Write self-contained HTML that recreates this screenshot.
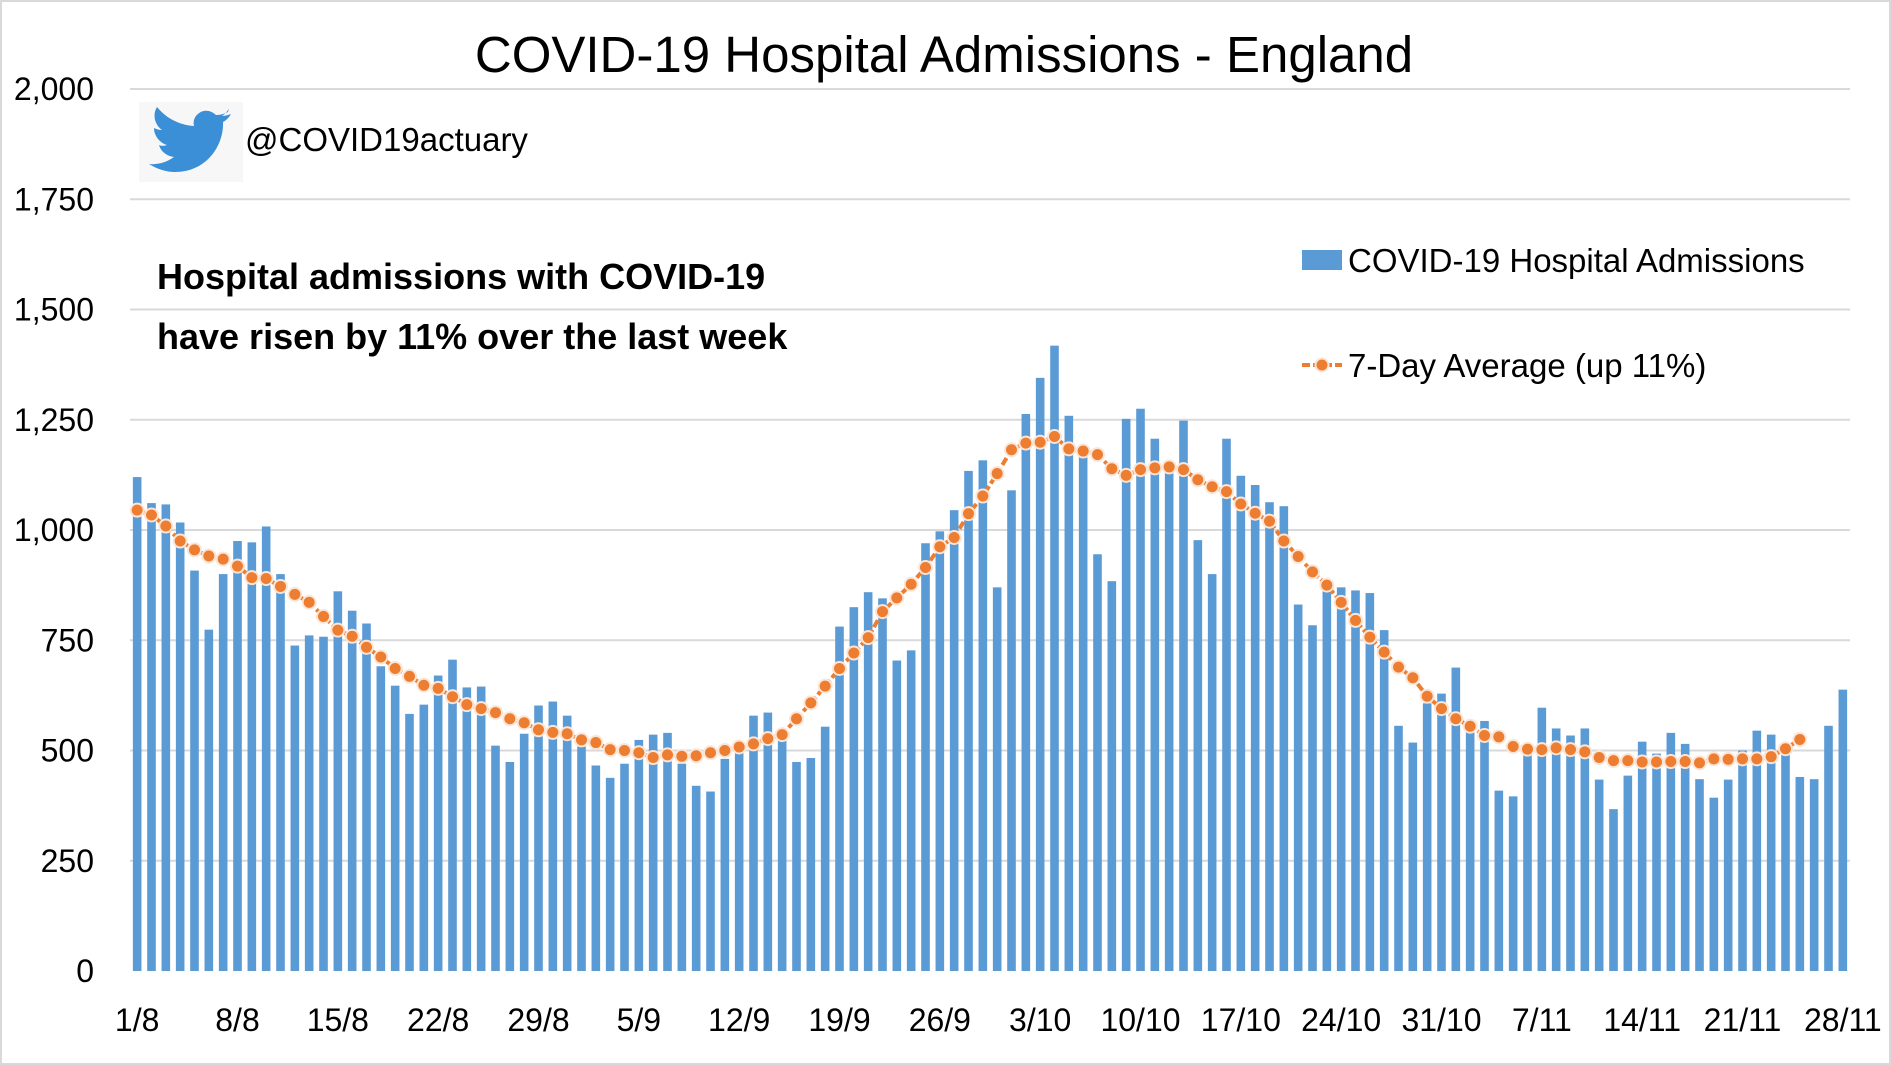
<!DOCTYPE html>
<html><head><meta charset="utf-8">
<style>
html,body{margin:0;padding:0;background:#fff;}
body{width:1891px;height:1065px;overflow:hidden;}
svg{display:block;font-family:"Liberation Sans",sans-serif;}
</style></head>
<body>
<svg id="chart" width="1891" height="1065" viewBox="0 0 1891 1065" xmlns="http://www.w3.org/2000/svg">
<rect x="1" y="1" width="1889" height="1063" fill="#fff" stroke="#d9d9d9" stroke-width="2"/>
<g id="grid"></g>
<g id="yticks"></g>
<g id="bars"></g>
<g id="avg"></g>
<g id="xticks"></g>
<text x="944" y="72" text-anchor="middle" font-size="51" fill="#000">COVID-19 Hospital Admissions - England</text>
<g>
<rect x="139" y="102" width="104" height="80" fill="#f7f7f7"/>
<path fill="#3a8fd6" d="M228 112 c-4 2-8 3-12 3 c-5-5-13-6-18-1 c-4 3-5 8-4 12 c-15-1-28-8-37-19 c-5 8-2 18 5 23 c-3 0-6-1-8-2 c0 8 6 15 13 17 c-3 1-6 1-8 0 c2 7 8 11 15 12 c-7 5-16 8-25 7 c8 5 17 8 26 8 c32 0 49-27 48-50 c4-2 6-5 8-8 c-3 1-6 2-9 2 c3-2 6-5 7-8z"/>
<text x="245" y="151" font-size="33" fill="#000">@COVID19actuary</text>
</g>
<text x="157" y="289" font-size="36" font-weight="bold" fill="#000">Hospital admissions with COVID-19</text>
<text x="157" y="349" font-size="36" font-weight="bold" fill="#000">have risen by 11% over the last week</text>
<g>
<rect x="1302" y="250" width="40" height="20" fill="#5b9bd5"/>
<text x="1348" y="272" font-size="33" fill="#000">COVID-19 Hospital Admissions</text>
<line x1="1302" y1="365" x2="1342" y2="365" stroke="#ed7d31" stroke-width="4" stroke-dasharray="8,3"/>
<circle cx="1322" cy="365" r="6.5" fill="#ed7d31" stroke="#fbe5d6" stroke-width="2"/>
<text x="1348" y="377" font-size="33" fill="#000">7-Day Average (up 11%)</text>
</g>
</svg>
<script>
const yTicks = [0, 250, 500, 750, 1000, 1250, 1500, 1750, 2000];
const yTickLabels = ["0", "250", "500", "750", "1,000", "1,250", "1,500", "1,750", "2,000"];
const xTickLabels = ["1/8","8/8","15/8","22/8","29/8","5/9","12/9","19/9","26/9","3/10","10/10","17/10","24/10","31/10","7/11","14/11","21/11","28/11"];
const admissions = [1120,1061,1058,1017,908,774,900,975,972,1008,900,738,761,758,861,817,788,691,647,583,604,670,706,643,645,511,474,538,602,611,579,509,466,438,470,524,536,540,470,420,
407,481,495,579,586,523,474,483,554,781,825,859,845,704,727,970,997,1045,1134,1158,870,1090,1263,1345,1418,1259,1165,945,884,1252,1275,1207,1135,1248,977,900,1207,1123,1102,1063,1054,831,
784,861,870,863,857,773,556,518,607,629,688,547,567,409,396,495,597,550,534,550,434,367,443,520,493,540,515,435,393,434,500,545,536,490,440,435,556,638];
const avg7 = [1045,1034,1009,975,955,941,934,918,892,890,872,854,836,804,773,759,734,712,686,668,648,641,622,604,595,586,572,563,547,541,538,524,518,502,500,495,484,490,487,
488,495,500,508,515,527,536,572,608,646,686,721,756,815,846,877,915,962,983,1037,1077,1128,1182,1197,1199,1212,1184,1179,1171,1139,1124,1137,1141,1143,1137,1114,1098,1087,1059,1038,1020,975,940,
905,875,836,795,757,723,689,665,623,595,572,555,534,531,509,503,502,506,502,497,484,477,477,474,474,475,475,472,481,480,481,481,486,504,525];

const NS = "http://www.w3.org/2000/svg";
const plotL = 130, plotR = 1850, y0px = 971, y2000px = 89;
const n = admissions.length;
const step = (plotR - plotL) / n;
function xPos(i){ return plotL + step * (i + 0.5); }
function yPos(v){ return y0px - (v / 2000) * (y0px - y2000px); }
function mk(tag, attrs, parent){ const e = document.createElementNS(NS, tag); for (const k in attrs) e.setAttribute(k, attrs[k]); parent.appendChild(e); return e; }

const grid = document.getElementById('grid'), yt = document.getElementById('yticks');
yTicks.forEach((v, k) => {
  if (v > 0) {
    const l = mk('line', {x1: plotL, x2: plotR, y1: yPos(v), y2: yPos(v), stroke: '#d9d9d9', 'stroke-width': 2}, grid);
    
    
  }
  const t = mk('text', {x: 94, y: yPos(v) + 11, 'text-anchor': 'end', 'font-size': 32, fill: '#000'}, yt);
  t.textContent = yTickLabels[k];
  
  
});
const bars = document.getElementById('bars');
admissions.forEach((v, i) => {
  const r = mk('rect', {x: xPos(i) - 4.3, y: yPos(v), width: 8.6, height: y0px - yPos(v), fill: '#5b9bd5'}, bars);
  
  
});
const avg = document.getElementById('avg');
const pts = avg7.map((v, i) => xPos(i) + ',' + yPos(v)).join(' ');
const pl = mk('polyline', {points: pts, fill: 'none', stroke: '#ed7d31', 'stroke-width': 4, 'stroke-dasharray': '8,3'}, avg);


avg7.forEach((v, i) => {
  const c = mk('circle', {cx: xPos(i), cy: yPos(v), r: 6.5, fill: '#ed7d31', stroke: '#fbe5d6', 'stroke-width': 2}, avg);
  
  
});
const xt = document.getElementById('xticks');
xTickLabels.forEach((s, k) => {
  const t = mk('text', {x: xPos(k * 7), y: 1031, 'text-anchor': 'middle', 'font-size': 32, fill: '#000'}, xt);
  t.textContent = s;
  
  
});
</script>
</body></html>
